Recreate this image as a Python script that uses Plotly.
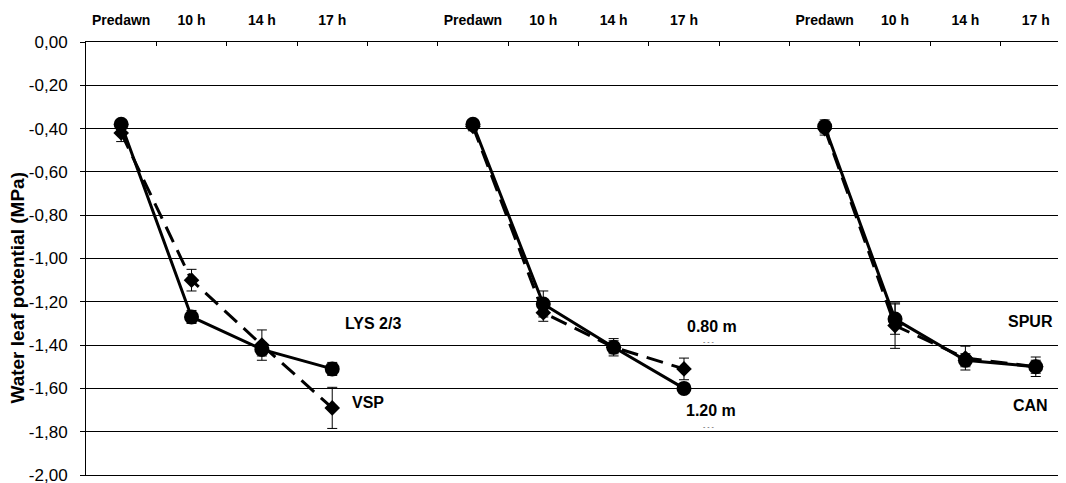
import plotly.graph_objects as go

# ---- data ----
TIMES = ["Predawn", "10 h", "14 h", "17 h"]

# Panel 1: LYS 2/3 (solid) vs VSP (dashed)
lys_vals = [-0.38, -1.27, -1.42, -1.51]
lys_err = [0.02, 0.03, 0.03, 0.03]
vsp_vals = [-0.42, -1.10, -1.40, -1.69]
vsp_err = [0.04, 0.05, 0.07, 0.095]

# Panel 2: 1.20 m (solid) vs 0.80 m (dashed)
m120_vals = [-0.38, -1.21, -1.41, -1.60]
m120_err = [0.02, 0.06, 0.03, 0.02]
m080_vals = [-0.39, -1.25, -1.41, -1.51]
m080_err = [0.02, 0.04, 0.04, 0.05]

# Panel 3: SPUR (solid) vs CAN (dashed)
spur_vals = [-0.39, -1.28, -1.47, -1.50]
spur_err = [0.03, 0.07, 0.03, 0.03]
can_vals = [-0.40, -1.31, -1.46, -1.50]
can_err = [0.03, 0.105, 0.055, 0.045]

Y_TICKS = [0, -0.2, -0.4, -0.6, -0.8, -1.0, -1.2, -1.4, -1.6, -1.8, -2.0]
Y_LABELS = ["0,00", "-0,20", "-0,40", "-0,60", "-0,80", "-1,00",
            "-1,20", "-1,40", "-1,60", "-1,80", "-2,00"]
Y_TITLE = "Water leaf potential (MPa)"

# ---- layout helpers ----
GROUP_START = [0, 5, 10]   # category slot of each panel's first time point

def xs(g):
    return [GROUP_START[g] + i for i in range(len(TIMES))]

FONT = "Liberation Sans, Arial, sans-serif"
fig = go.Figure()

def add_series(g, vals, err, solid):
    fig.add_trace(go.Scatter(
        x=xs(g), y=vals,
        mode="lines+markers",
        line=dict(color="black", width=3, dash="solid" if solid else "17px,9px"),
        marker=dict(symbol="circle" if solid else "diamond",
                    size=15 if solid else 12, color="black"),
        error_y=dict(type="data", array=err, visible=True,
                     color="black", thickness=1, width=5),
        showlegend=False, hoverinfo="skip",
    ))

add_series(0, vsp_vals, vsp_err, False)
add_series(0, lys_vals, lys_err, True)
add_series(1, m080_vals, m080_err, False)
add_series(1, m120_vals, m120_err, True)
add_series(2, can_vals, can_err, False)
add_series(2, spur_vals, spur_err, True)

tickvals = [x for g in range(3) for x in xs(g)]
ticktext = TIMES * 3
boundaries = [k - 0.5 for k in range(1, 14)]

# the page body adds an 8px offset, so the figure is sized to fit the window
fig.update_layout(
    width=1058, height=475,
    margin=dict(l=78, r=0, t=34, b=8, autoexpand=False),
    plot_bgcolor="white", paper_bgcolor="white",
    font=dict(family=FONT, color="black"),
    xaxis=dict(
        side="top", range=[-0.5, 13.43],
        tickmode="array", tickvals=tickvals, ticktext=ticktext,
        ticks="", ticklabelstandoff=10,
        tickfont=dict(size=14, family=FONT, weight="bold"),
        showline=True, mirror=True, linecolor="black", linewidth=1,
        showgrid=False, zeroline=False,
        minor=dict(tickmode="array", tickvals=boundaries, ticks="inside",
                   ticklen=4, tickcolor="black", tickwidth=1, showgrid=False),
    ),
    yaxis=dict(
        range=[-2.0, 0.0],
        tickmode="array", tickvals=Y_TICKS, ticktext=Y_LABELS,
        ticks="outside", ticklen=5, tickcolor="black",
        ticklabelstandoff=9, ticklabeloverflow="allow",
        tickfont=dict(size=17, family=FONT),
        showline=True, linecolor="black", linewidth=1,
        showgrid=True, gridcolor="black", gridwidth=1,
        zeroline=False,
    ),
)

# y-axis title placed as in the reference (centred a little below mid-plot)
fig.add_annotation(xref="paper", yref="paper", x=-0.0699, y=0.434,
                   text="<b>%s</b>" % Y_TITLE, textangle=-90, showarrow=False,
                   xanchor="center", yanchor="middle",
                   font=dict(size=19, family=FONT, color="black"))

ann = [
    ("LYS 2/3", 3.58, -1.30),
    ("VSP", 3.51, -1.667),
    ("0.80 m", 8.4, -1.316),
    ("1.20 m", 8.39, -1.70),
    ("SPUR", 12.92, -1.289),
    ("CAN", 12.92, -1.68),
]
for text, x, y in ann:
    fig.add_annotation(x=x, y=y, xref="x", yref="y", text="<b>%s</b>" % text,
                       showarrow=False, font=dict(size=16, family=FONT, color="black"))
for y in (-1.385, -1.775):
    fig.add_annotation(x=8.36, y=y, xref="x", yref="y", text="- - -",
                       showarrow=False, font=dict(size=7, family=FONT, color="#444"))

fig.write_html("out.html")
